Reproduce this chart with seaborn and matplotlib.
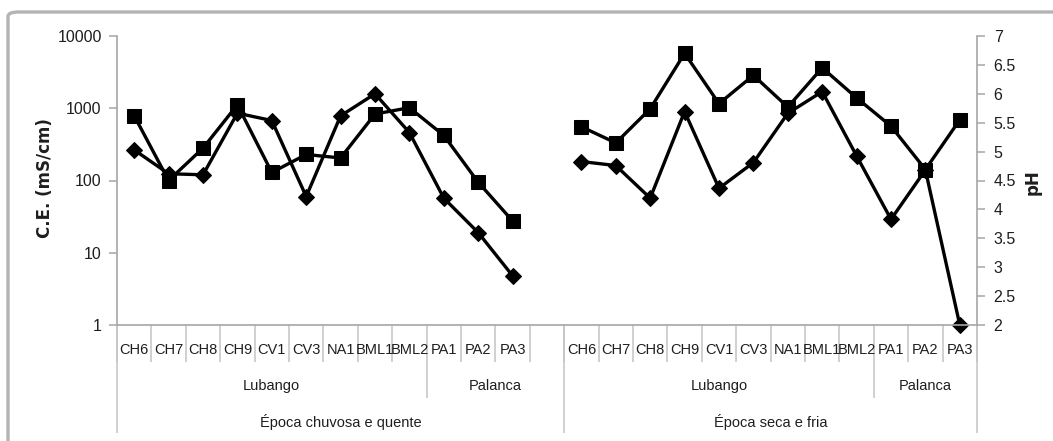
import numpy as np
import pandas as pd
import matplotlib
matplotlib.use("Agg")
import matplotlib.pyplot as plt
from matplotlib.patches import FancyBboxPatch
import matplotlib.transforms as mtransforms
import seaborn as sns

# ---------------- data ----------------
categories = ["CH6", "CH7", "CH8", "CH9", "CV1", "CV3", "NA1", "BML1", "BML2", "PA1", "PA2", "PA3"]
locations = ["Lubango"] * 9 + ["Palanca"] * 3
seasons = ["Época chuvosa e quente", "Época seca e fria"]

ce_rainy = [265, 124, 120, 855, 676, 60, 785, 1585, 461, 57, 19, 4.8]
ce_dry = [183, 161, 57, 900, 78, 177, 850, 1700, 219, 29, 140, 1]
ph_rainy = [5.62, 4.50, 5.06, 5.81, 4.64, 4.95, 4.89, 5.65, 5.76, 5.28, 4.47, 3.80]
ph_dry = [5.43, 5.15, 5.74, 6.70, 5.83, 6.32, 5.77, 6.45, 5.93, 5.44, 4.69, 5.55]

ce_ticks = [1, 10, 100, 1000, 10000]
ph_ticks = [2, 2.5, 3, 3.5, 4, 4.5, 5, 5.5, 6, 6.5, 7]

# ---------------- build table ----------------
n = len(categories)
slot = n + 1  # each season uses n categories plus one empty slot (gap after the first)
rows = []
for s_idx, (season, ce, ph) in enumerate(zip(seasons, [ce_rainy, ce_dry], [ph_rainy, ph_dry])):
    for i, cat in enumerate(categories):
        rows.append({"season": season, "cat": cat, "loc": locations[i],
                     "pos": s_idx * slot + i, "ce": ce[i], "ph": ph[i]})
df = pd.DataFrame(rows)
n_slots = 2 * n + 1

# ---------------- figure ----------------
sns.set_theme(style="white")
plt.rcParams["font.family"] = ["Liberation Sans", "DejaVu Sans"]
W, H = 1053, 441
fig = plt.figure(figsize=(W / 100, H / 100), dpi=100)
fig.patch.set_facecolor("white")

# outer rounded border
border = FancyBboxPatch((8 / W, -0.2), 1.2, 1.2 - 12 / H,
                        boxstyle="round,pad=0,rounding_size=0.01",
                        transform=fig.transFigure, fill=False,
                        edgecolor="#b4b4b4", linewidth=2.4)
fig.patches.append(border)

x0, x1 = 117, 977
ytop, ybot = 36, 325
ax = fig.add_axes([x0 / W, 1 - ybot / H, (x1 - x0) / W, (ybot - ytop) / H])
ax2 = ax.twinx()

line_kw = dict(color="black", linewidth=2.4, estimator=None, legend=False)
for season in seasons:
    sub = df[df["season"] == season]
    sns.lineplot(data=sub, x="pos", y="ce", ax=ax, marker="D", markersize=8.5,
                 markeredgecolor="black", markerfacecolor="black", clip_on=False, **line_kw)
    sns.lineplot(data=sub, x="pos", y="ph", ax=ax2, marker="s", markersize=10.5,
                 markeredgecolor="black", markerfacecolor="black", clip_on=False, **line_kw)

ax.set_yscale("log")
ax.set_ylim(ce_ticks[0], ce_ticks[-1])
ax.set_yticks(ce_ticks)
ax.set_yticklabels([str(t) for t in ce_ticks])
ax.minorticks_off()
ax2.set_ylim(ph_ticks[0], ph_ticks[-1])
ax2.set_yticks(ph_ticks)
ax2.set_yticklabels([f"{t:g}" for t in ph_ticks])
ax.set_xlim(-0.5, n_slots - 0.5)
ax.set_xticks([])
ax2.set_xticks([])
ax.set_xlabel("")
ax2.set_xlabel("")

axis_col = "#a6a6a6"
text_col = "#1e1e1e"
for a in (ax, ax2):
    for sp in a.spines.values():
        sp.set_visible(False)
    a.grid(False)
ax.spines["left"].set_visible(True)
ax.spines["left"].set_color(axis_col)
ax.spines["bottom"].set_visible(True)
ax.spines["bottom"].set_color(axis_col)
ax2.spines["right"].set_visible(True)
ax2.spines["right"].set_color(axis_col)
for sp in (ax.spines["left"], ax.spines["bottom"], ax2.spines["right"]):
    sp.set_linewidth(1.2)

ax.tick_params(axis="y", which="both", left=True, length=6, width=1.1, color=axis_col,
               labelsize=11.5, labelcolor=text_col, pad=5, direction="out")
ax2.tick_params(axis="y", which="both", right=True, length=6, width=1.1, color=axis_col,
                labelsize=11.5, labelcolor=text_col, pad=6, direction="out")

ax.set_ylabel("")
ax2.set_ylabel("")
fig.text(45 / W, 1 - 178 / H, "C.E. (mS/cm)", rotation=90, ha="center", va="center",
         fontsize=12, fontweight="bold", color=text_col, family=["DejaVu Sans"])
fig.text(1033 / W, 1 - 182 / H, "pH", rotation=90, ha="center", va="center",
         fontsize=12, fontweight="bold", color=text_col, family=["DejaVu Sans"])

# ---------------- multi-level category axis ----------------
trans = mtransforms.blended_transform_factory(ax.transData, ax.transAxes)
def ay(ypix):
    return (ybot - ypix) / (ybot - ytop)

sep_col = "#c4c4c4"
narrow = ["Liberation Sans Narrow", "Liberation Sans", "DejaVu Sans"]

def vline(x, y_from, y_to):
    ax.plot([x, x], [ay(y_from), ay(y_to)], transform=trans, color=sep_col,
            linewidth=1.1, clip_on=False, solid_capstyle="butt")

# level 1: sample codes
for _, r in df.iterrows():
    ax.text(r["pos"], ay(350), r["cat"], transform=trans, ha="center", va="center",
            fontsize=10.5, color=text_col, family=narrow)
for b in range(n_slots + 1):
    vline(b - 0.5, ybot, 362)

# level 2: locations
for s_idx in range(2):
    start = s_idx * slot
    end = start + n + (1 if s_idx == 0 else 0)  # first season owns the empty slot
    locs = locations + ([locations[-1]] if s_idx == 0 else [])
    groups = []
    cur = locs[0]; g0 = 0
    for k in range(1, len(locs) + 1):
        if k == len(locs) or locs[k] != cur:
            groups.append((cur, start + g0, start + k))
            if k < len(locs):
                cur = locs[k]; g0 = k
    for name, a, b in groups:
        ax.text((a - 0.5 + b - 0.5) / 2, ay(386), name, transform=trans, ha="center",
                va="center", fontsize=10.5, color=text_col, family=narrow)
    for name, a, b in groups[1:]:
        vline(a - 0.5, 362, 398)
    ax.text((start - 0.5 + end - 0.5) / 2, ay(422), seasons[s_idx], transform=trans,
            ha="center", va="center", fontsize=10.5, color=text_col, family=narrow)

# season separators (full height)
for b in [-0.5, slot - 0.5, n_slots - 0.5]:
    vline(b, ybot, 433)

fig.savefig("out.png", dpi=100, facecolor="white")
